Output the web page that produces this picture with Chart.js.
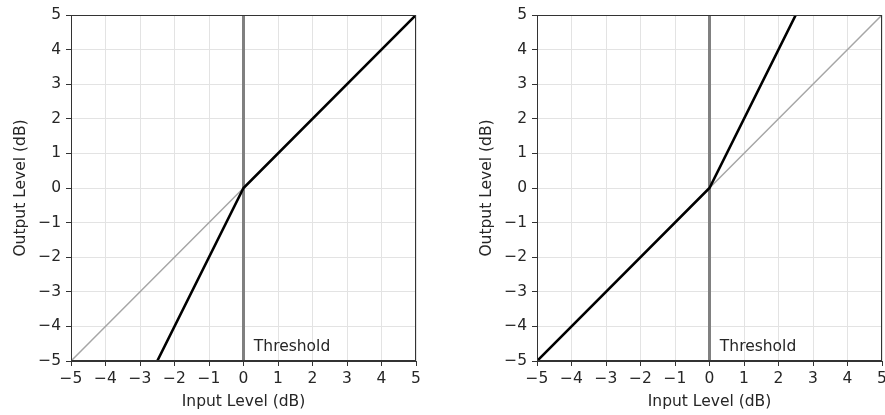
<!DOCTYPE html>
<html>
<head>
<meta charset="utf-8">
<script src="https://cdn.jsdelivr.net/npm/chart.js@4/dist/chart.umd.min.js"></script>
<style>
	html, body { margin: 0; padding: 0; background: #fff; overflow: hidden; width: 885px; height: 415px; }
	.panel { position: absolute; top: 0; width: 440px; height: 415px; }
	#left-panel { left: 0; }
	#right-panel { left: 466px; }
</style>
</head>
<body>
<div class="panel" id="left-panel"><canvas id="left-chart" width="440" height="415"></canvas></div>
<div class="panel" id="right-panel"><canvas id="right-chart" width="440" height="415"></canvas></div>
<script>
(function() {
	'use strict';

	// Axis ticks (dB)
	const xTicks = [-5, -4, -3, -2, -1, 0, 1, 2, 3, 4, 5];
	const yTicks = [-5, -4, -3, -2, -1, 0, 1, 2, 3, 4, 5];

	// Unity gain reference line
	const unityX = [-5, 0, 5];
	const unityY = [-5, 0, 5];

	// Left panel: downward expander (slope 2 below threshold)
	const leftCurveX = [-2.5, 0, 5];
	const leftCurveY = [-5, 0, 5];

	// Right panel: upward expander (slope 2 above threshold)
	const rightCurveX = [-5, 0, 2.5];
	const rightCurveY = [-5, 0, 5];

	// Threshold marker
	const thresholdX = [0, 0];
	const thresholdY = [-5, 5];
	const thresholdLabel = 'Threshold';
	const thresholdLabelX = 0.3;
	const thresholdLabelY = -4.7;

	const FONT = 'DejaVu Sans';
	const TEXT_COLOR = '#262626';

	function toPoints(xs, ys) {
		return xs.map((x, i) => ({ x: x, y: ys[i] }));
	}

	function minusSign(value) {
		return String(value).replace('-', '\u2212');
	}

	// Box around the plot area plus the threshold text
	const framePlugin = {
		id: 'frame',
		afterDatasetsDraw(chart) {
			const ctx = chart.ctx;
			const a = chart.chartArea;
			ctx.save();
			ctx.strokeStyle = '#333';
			ctx.lineWidth = 1;
			ctx.strokeRect(Math.round(a.left) + 0.5, Math.round(a.top) + 0.5,
				Math.round(a.right - a.left) - 1, Math.round(a.bottom - a.top) - 1);
			ctx.fillStyle = TEXT_COLOR;
			ctx.font = '15.5px "' + FONT + '"';
			ctx.textAlign = 'left';
			ctx.textBaseline = 'alphabetic';
			ctx.fillText(thresholdLabel,
				chart.scales.x.getPixelForValue(thresholdLabelX),
				chart.scales.y.getPixelForValue(thresholdLabelY));
			ctx.restore();
		}
	};

	function buildChart(canvasId, curveX, curveY) {
		const tickFont = { family: FONT, size: 15.5 };
		const gridOpts = {
			color: '#e3e3e3',
			lineWidth: 1,
			tickColor: '#333',
			tickLength: 5
		};
		return new Chart(document.getElementById(canvasId), {
			type: 'scatter',
			data: {
				datasets: [
					{
						data: toPoints(curveX, curveY),
						showLine: true,
						borderColor: '#000',
						borderWidth: 2.6,
						pointRadius: 0,
						order: 0
					},
					{
						data: toPoints(thresholdX, thresholdY),
						showLine: true,
						borderColor: '#808080',
						borderWidth: 3,
						pointRadius: 0,
						order: 1
					},
					{
						data: toPoints(unityX, unityY),
						showLine: true,
						borderColor: '#a6a6a6',
						borderWidth: 1.5,
						pointRadius: 0,
						order: 2
					}
				]
			},
			options: {
				responsive: false,
				animation: false,
				events: [],
				layout: { padding: { top: 15, right: 24, left: 0, bottom: 0 } },
				plugins: {
					legend: { display: false },
					tooltip: { enabled: false }
				},
				scales: {
					x: {
						type: 'linear',
						min: -5,
						max: 5,
						grid: gridOpts,
						border: { display: true, color: '#333', width: 1 },
						afterBuildTicks: function(scale) {
							scale.ticks = xTicks.map(v => ({ value: v }));
						},
						afterFit: function(scale) {
							scale.height = 54;
							scale.paddingLeft = 0;
							scale.paddingRight = 0;
						},
						ticks: {
							font: tickFont,
							color: TEXT_COLOR,
							padding: 4,
							maxRotation: 0,
							autoSkip: false,
							callback: minusSign
						},
						title: {
							display: true,
							text: 'Input Level (dB)',
							font: tickFont,
							color: TEXT_COLOR,
							padding: { top: 0, bottom: 4 }
						}
					},
					y: {
						type: 'linear',
						min: -5,
						max: 5,
						grid: gridOpts,
						border: { display: true, color: '#333', width: 1 },
						afterBuildTicks: function(scale) {
							scale.ticks = yTicks.map(v => ({ value: v }));
						},
						afterFit: function(scale) {
							scale.width = 71;
							scale.paddingTop = 0;
							scale.paddingBottom = 0;
						},
						ticks: {
							font: tickFont,
							color: TEXT_COLOR,
							padding: 5,
							autoSkip: false,
							callback: minusSign
						},
						title: {
							display: true,
							text: 'Output Level (dB)',
							font: tickFont,
							color: TEXT_COLOR,
							padding: { top: 12, bottom: 0 }
						}
					}
				}
			},
			plugins: [framePlugin]
		});
	}

	buildChart('left-chart', leftCurveX, leftCurveY);
	buildChart('right-chart', rightCurveX, rightCurveY);
})();
</script>
</body>
</html>
